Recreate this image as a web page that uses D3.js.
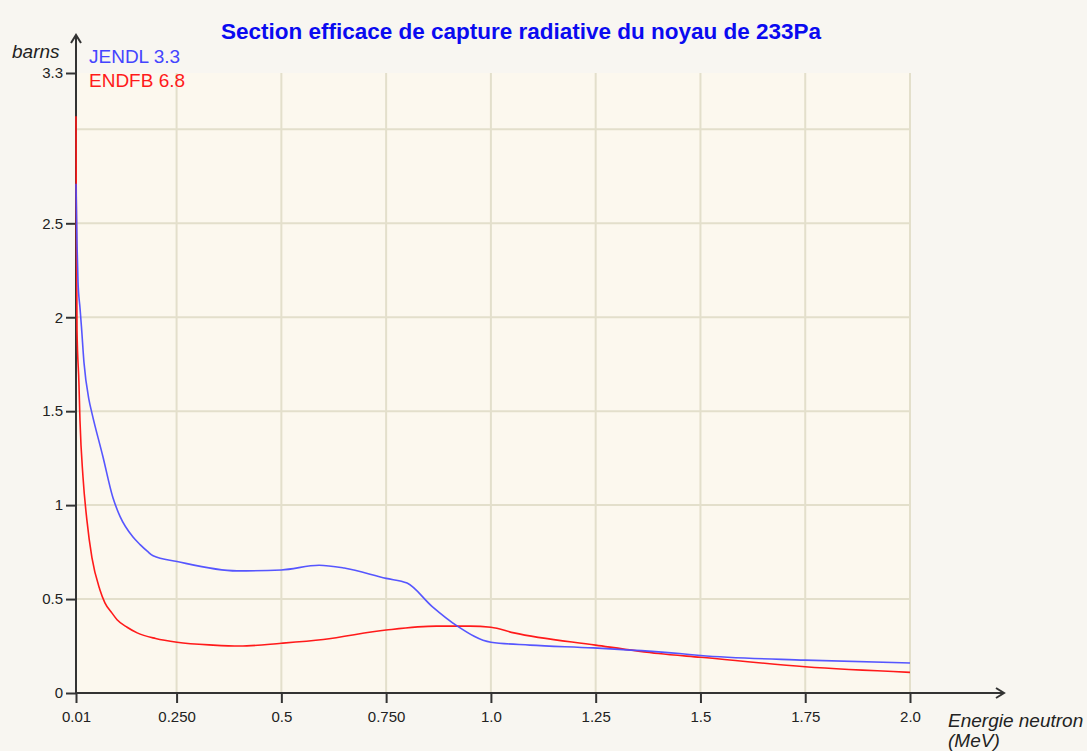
<!DOCTYPE html>
<html><head><meta charset="utf-8">
<script src="https://cdn.jsdelivr.net/npm/d3@7"></script>
<style>
body{margin:0;background:#f8f6f1;}
svg{display:block;}
text{font-family:"Liberation Sans",Arial,sans-serif;}
</style></head>
<body>
<script>
// ---- data ----
const title = "Section efficace de capture radiative du noyau de 233Pa";
const seriesNames = ["JENDL 3.3", "ENDFB 6.8"];
const xTickValues = [0.01, 0.25, 0.5, 0.75, 1.0, 1.25, 1.5, 1.75, 2.0];
const xTickLabels = ["0.01", "0.250", "0.5", "0.750", "1.0", "1.25", "1.5", "1.75", "2.0"];
const yTickValues = [0, 0.5, 1, 1.5, 2, 2.5, 3.3];
const yTickLabels = ["0", "0.5", "1", "1.5", "2", "2.5", "3.3"];
const yGridValues = [0.5, 1, 1.5, 2, 2.5, 3.0];

const jendlE = [0.01, 0.0124, 0.0148, 0.0195, 0.023, 0.029, 0.041, 0.048, 0.074, 0.098, 0.115, 0.146, 0.163, 0.18, 0.194, 0.251, 0.394, 0.5, 0.59, 0.65, 0.75, 0.80, 0.86, 0.92, 1.0, 1.093, 1.244, 1.45, 1.5, 1.75, 2.0];
const jendlXS = [2.71, 2.39, 2.19, 2.05, 1.95, 1.76, 1.56, 1.49, 1.26, 1.04, 0.94, 0.83, 0.79, 0.755, 0.73, 0.70, 0.65, 0.655, 0.68, 0.665, 0.61, 0.585, 0.46, 0.356, 0.27, 0.255, 0.24, 0.21, 0.20, 0.175, 0.16];
const endfE = [0.01, 0.0105, 0.0124, 0.017, 0.0195, 0.0267, 0.036, 0.048, 0.067, 0.079, 0.096, 0.108, 0.132, 0.156, 0.2, 0.251, 0.337, 0.4, 0.5, 0.6, 0.75, 0.87, 0.95, 1.0, 1.055, 1.25, 1.40, 1.5, 1.75, 2.0];
const endfXS = [3.07, 2.70, 1.93, 1.65, 1.45, 1.15, 0.92, 0.72, 0.55, 0.48, 0.425, 0.39, 0.35, 0.32, 0.29, 0.27, 0.255, 0.25, 0.265, 0.285, 0.335, 0.356, 0.356, 0.35, 0.32, 0.255, 0.21, 0.19, 0.14, 0.11];

// ---- layout ----
const W = 1087, H = 751;
const svg = d3.select("body").append("svg").attr("width", W).attr("height", H);

const x = d3.scaleLinear().domain([0.01, 2.0]).range([76, 910]);
const y = d3.scaleLinear().domain([0, 3.3]).range([693, 73]);

// plot background
svg.append("rect").attr("x", x(0.01)).attr("y", y(3.3))
  .attr("width", x(2.0) - x(0.01)).attr("height", y(0) - y(3.3))
  .attr("fill", "#fcf8ee");

// grid
const grid = svg.append("g").attr("stroke", "#e3dfcb").attr("stroke-width", 2);
grid.selectAll("line.v").data(xTickValues.slice(1)).join("line")
  .attr("x1", d => x(d)).attr("x2", d => x(d)).attr("y1", y(3.3)).attr("y2", y(0));
grid.selectAll("line.h").data(yGridValues).join("line")
  .attr("y1", d => y(d)).attr("y2", d => y(d)).attr("x1", x(0.01)).attr("x2", x(2.0));

// axes
const xAxis = d3.axisBottom(x).tickValues(xTickValues).tickFormat((d, i) => xTickLabels[i])
  .tickSizeInner(10).tickSizeOuter(0).tickPadding(8);
const gx = svg.append("g").attr("transform", `translate(0,${y(0)})`).call(xAxis);
gx.select(".domain").remove();
gx.selectAll(".tick line").attr("stroke", "#333").attr("stroke-width", 2);
gx.selectAll(".tick text").attr("font-size", 15).attr("fill", "#222")
  .attr("font-family", "Liberation Sans, Arial, sans-serif");

const yAxis = d3.axisLeft(y).tickValues(yTickValues).tickFormat((d, i) => yTickLabels[i])
  .tickSizeInner(10).tickSizeOuter(0).tickPadding(3);
const gy = svg.append("g").attr("transform", `translate(${x(0.01)},0)`).call(yAxis);
gy.select(".domain").remove();
gy.selectAll(".tick line").attr("stroke", "#333").attr("stroke-width", 2);
gy.selectAll(".tick text").attr("font-size", 15).attr("fill", "#222")
  .attr("font-family", "Liberation Sans, Arial, sans-serif");

// axis lines with arrows
const axisG = svg.append("g").attr("stroke", "#333").attr("stroke-width", 2).attr("fill", "none");
axisG.append("line").attr("x1", x(0.01)).attr("x2", 1004).attr("y1", y(0)).attr("y2", y(0));
axisG.append("line").attr("x1", x(0.01)).attr("x2", x(0.01)).attr("y1", y(0) + 1).attr("y2", 35);
axisG.append("path").attr("d", `M${996},${y(0) - 5} L${1004},${y(0)} L${996},${y(0) + 5}`);
axisG.append("path").attr("d", `M${x(0.01) - 5},${43} L${x(0.01)},${35} L${x(0.01) + 5},${43}`);

// lines
const line = d3.line().x(d => x(d[0])).y(d => y(d[1])).curve(d3.curveMonotoneX);
const jendl = jendlE.map((e, i) => [e, jendlXS[i]]);
const endf = endfE.map((e, i) => [e, endfXS[i]]);
svg.append("path").datum(endf).attr("d", line).attr("fill", "none")
  .attr("stroke", "#ff1a1a").attr("stroke-width", 1.6);
svg.append("path").datum(jendl).attr("d", line).attr("fill", "none")
  .attr("stroke", "#4d4dff").attr("stroke-width", 1.6).attr("stroke-opacity", 0.95);

// legend
svg.append("text").attr("x", 89).attr("y", 63).attr("font-size", 19).attr("fill", "#4444ff").text(seriesNames[0]);
svg.append("text").attr("x", 89).attr("y", 87).attr("font-size", 19).attr("fill", "#ff1a1a").text(seriesNames[1]);

// title
svg.append("text").attr("x", 521).attr("y", 39).attr("text-anchor", "middle")
  .attr("font-size", 22.5).attr("font-weight", "bold").attr("fill", "#0a0af0").text(title);

// axis labels
svg.append("text").attr("x", 12).attr("y", 58).attr("font-size", 19).attr("font-style", "italic")
  .attr("fill", "#222").text("barns");
svg.append("text").attr("x", 948).attr("y", 727).attr("font-size", 19).attr("font-style", "italic")
  .attr("fill", "#222").text("Energie neutron");
svg.append("text").attr("x", 948).attr("y", 747).attr("font-size", 19).attr("font-style", "italic")
  .attr("fill", "#222").text("(MeV)");
</script>
</body></html>
